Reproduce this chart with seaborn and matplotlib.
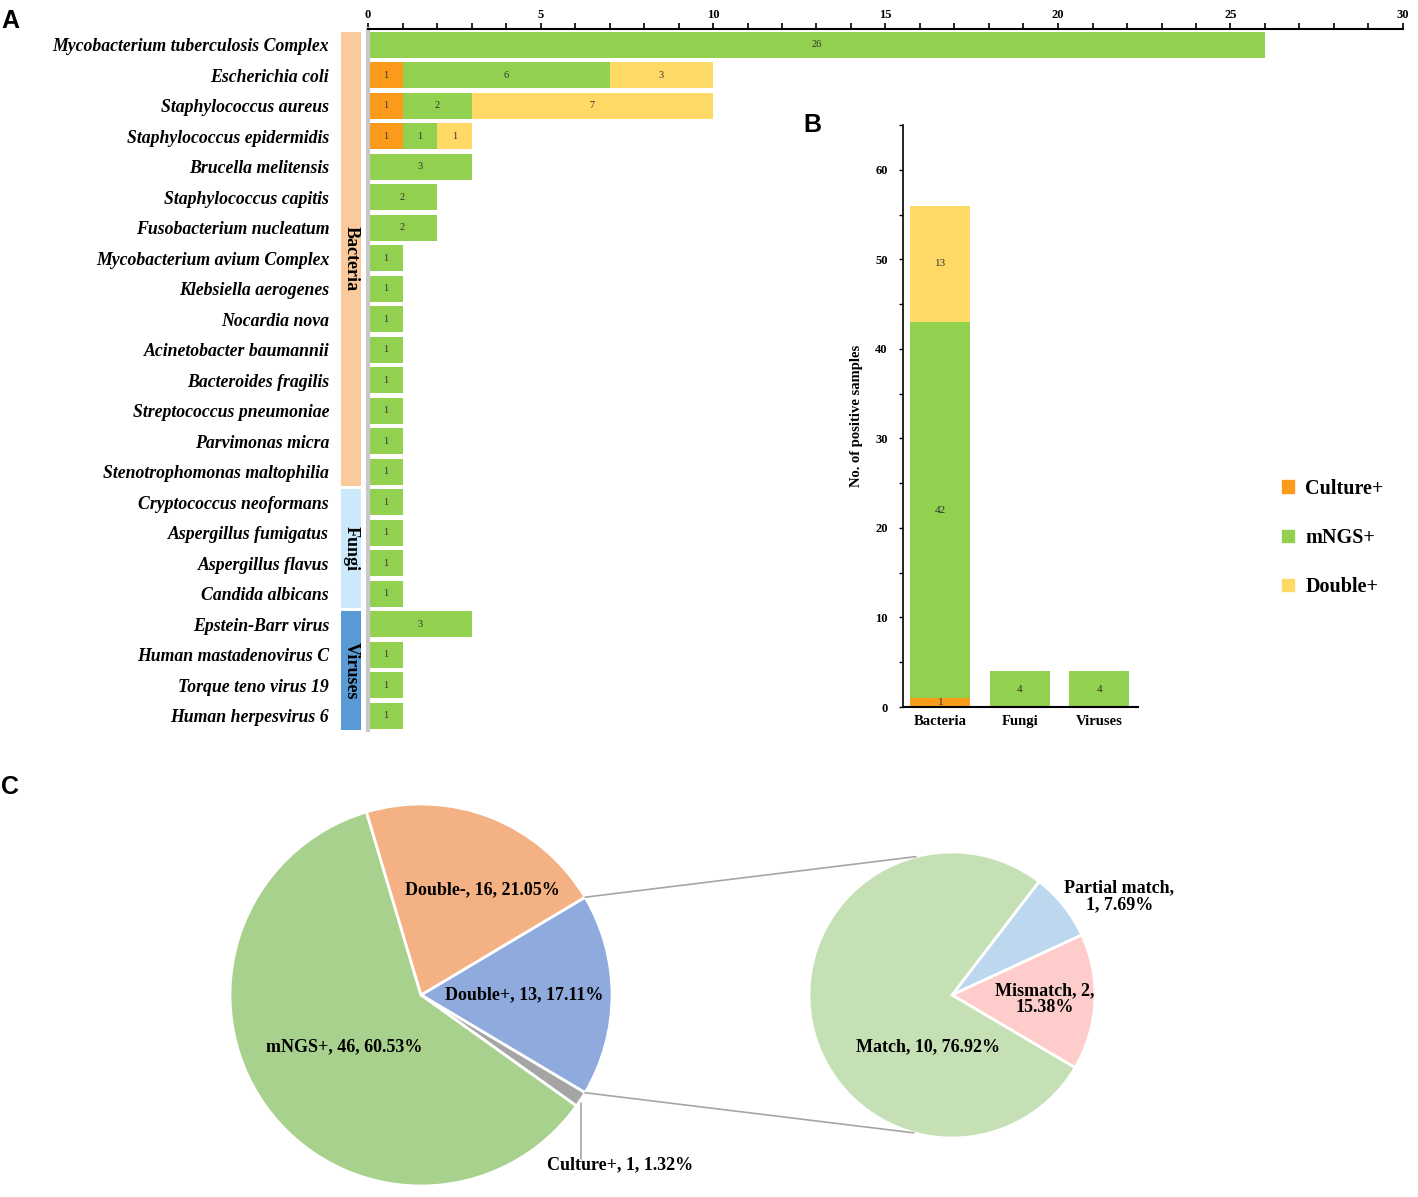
import matplotlib
matplotlib.use("Agg")
import matplotlib.pyplot as plt
import matplotlib.transforms as mtransforms
from matplotlib.patches import Patch, Rectangle, ConnectionPatch
import numpy as np
import pandas as pd
import seaborn as sns

# ---- data -------------------------------------------------------------
species = [
    "Mycobacterium tuberculosis Complex", "Escherichia coli", "Staphylococcus aureus",
    "Staphylococcus epidermidis", "Brucella melitensis", "Staphylococcus capitis",
    "Fusobacterium nucleatum", "Mycobacterium avium Complex", "Klebsiella aerogenes",
    "Nocardia nova", "Acinetobacter baumannii", "Bacteroides fragilis",
    "Streptococcus pneumoniae", "Parvimonas micra", "Stenotrophomonas maltophilia",
    "Cryptococcus neoformans", "Aspergillus fumigatus", "Aspergillus flavus",
    "Candida albicans", "Epstein-Barr virus", "Human mastadenovirus C",
    "Torque teno virus 19", "Human herpesvirus 6",
]
culture_pos = [0, 1, 1, 1, 0, 0, 0, 0, 0, 0, 0, 0, 0, 0, 0, 0, 0, 0, 0, 0, 0, 0, 0]
mngs_pos = [26, 6, 2, 1, 3, 2, 2, 1, 1, 1, 1, 1, 1, 1, 1, 1, 1, 1, 1, 3, 1, 1, 1]
double_pos = [0, 3, 7, 1, 0, 0, 0, 0, 0, 0, 0, 0, 0, 0, 0, 0, 0, 0, 0, 0, 0, 0, 0]

groups = ["Bacteria", "Fungi", "Viruses"]
group_sizes = [15, 4, 4]

kingdom_culture = [1, 0, 0]
kingdom_mngs = [42, 4, 4]
kingdom_double = [13, 0, 0]

overall_labels = ["Double+", "Culture+", "mNGS+", "Double-"]
overall_counts = [13, 1, 46, 16]
overall_pct = ["17.11%", "1.32%", "60.53%", "21.05%"]

concord_labels = ["Partial match", "Mismatch", "Match"]
concord_counts = [1, 2, 10]
concord_pct = ["7.69%", "15.38%", "76.92%"]

# ---- style ------------------------------------------------------------
C_CULT, C_MNGS, C_DBL = "#FB9A1B", "#92D050", "#FFD966"
GROUP_COLORS = ["#FAC99C", "#CBE9FB", "#5B9BD5"]
OVERALL_COLORS = ["#8FAADC", "#A5A5A5", "#A9D18E", "#F4B183"]
CONCORD_COLORS = ["#BDD7EE", "#FFCCCC", "#C5E0B4"]

sns.set_theme(style="white")
plt.rcParams["font.family"] = ["Liberation Serif", "DejaVu Serif"]
plt.rcParams["font.weight"] = "bold"
for key in ["text.color", "axes.labelcolor", "xtick.color", "ytick.color"]:
    plt.rcParams[key] = "black"

W, H = 1418, 1197
fig = plt.figure(figsize=(W / 100, H / 100), dpi=100)


def px_axes(x0, y0, x1, y1):
    """axes from pixel box (top-left origin)"""
    return fig.add_axes([x0 / W, 1 - y1 / H, (x1 - x0) / W, (y1 - y0) / H])


# ---- panel A: stacked horizontal bars ---------------------------------
df_a = pd.DataFrame({"species": species, "culture": culture_pos,
                     "mngs": mngs_pos, "double": double_pos})
df_a["c1"] = df_a["culture"]
df_a["c2"] = df_a["culture"] + df_a["mngs"]
df_a["c3"] = df_a["c2"] + df_a["double"]

axA = px_axes(368, 29, 1403, 730)
for col, color in [("c3", C_DBL), ("c2", C_MNGS), ("c1", C_CULT)]:
    sns.barplot(data=df_a, x=col, y="species", orient="h", color=color,
                width=0.85, saturation=1, ax=axA, linewidth=0)

for i, row in df_a.iterrows():
    starts = [0, row["c1"], row["c2"]]
    for start, val in zip(starts, [row["culture"], row["mngs"], row["double"]]):
        if val > 0:
            axA.text(start + val / 2, i, str(val), ha="center", va="center",
                     fontsize=7.5, fontweight="normal", color="#333333")

axA.set_xlim(0, 30)
axA.set_ylim(len(species) - 0.54, -0.52)
axA.xaxis.tick_top()
axA.set_xticks(range(0, 31, 5))
axA.set_xticks(range(0, 31), minor=True)
axA.tick_params(axis="x", which="both", direction="out", length=4, width=1.2,
                top=True, bottom=False, labelsize=9, pad=2)
axA.set_xlabel("")
axA.set_ylabel("")
axA.set_yticks(range(len(species)))
axA.set_yticklabels(species, fontstyle="italic", fontweight="bold", fontsize=12.8)
axA.tick_params(axis="y", length=0, pad=28)
for s in ["right", "bottom"]:
    axA.spines[s].set_visible(False)
axA.spines["top"].set_color("black")
axA.spines["top"].set_linewidth(1.5)
axA.spines["left"].set_color("#C8C8C8")
axA.spines["left"].set_linewidth(3)

# kingdom bands left of panel A
band_tf = mtransforms.blended_transform_factory(fig.transFigure, axA.transData)
start = 0
for name, size, color in zip(groups, group_sizes, GROUP_COLORS):
    y0, y1 = start - 0.43, start + size - 1 + 0.45
    axA.add_patch(Rectangle((341 / W, y0), 20 / W, y1 - y0, transform=band_tf,
                            facecolor=color, edgecolor="none", clip_on=False))
    axA.text(351 / W, (y0 + y1) / 2, name, transform=band_tf, rotation=-90,
             ha="center", va="center", fontsize=13, fontweight="bold")
    start += size

# ---- panel B: stacked bars per kingdom --------------------------------
df_b = pd.DataFrame({"kingdom": groups, "culture": kingdom_culture,
                     "mngs": kingdom_mngs, "double": kingdom_double})
df_b["c1"] = df_b["culture"]
df_b["c2"] = df_b["culture"] + df_b["mngs"]
df_b["c3"] = df_b["c2"] + df_b["double"]

axB = px_axes(903, 125, 1138, 707)
for col, color in [("c3", C_DBL), ("c2", C_MNGS), ("c1", C_CULT)]:
    sns.barplot(data=df_b, x="kingdom", y=col, color=color, width=0.76,
                saturation=1, ax=axB, linewidth=0)
for i, row in df_b.iterrows():
    starts = [0, row["c1"], row["c2"]]
    for st, val in zip(starts, [row["culture"], row["mngs"], row["double"]]):
        if val > 0:
            axB.text(i, st + val / 2, str(val), ha="center", va="center",
                     fontsize=8, fontweight="normal", color="#333333")
axB.set_ylim(0, 65)
axB.set_xlim(-0.47, 2.49)
axB.set_yticks(range(0, 61, 10))
axB.set_yticks(range(0, 66, 5), minor=True)
axB.tick_params(axis="y", which="both", direction="out", length=3, width=1,
                left=True, labelsize=9, pad=8)
axB.tick_params(axis="x", length=0, labelsize=10.5, pad=6)
axB.set_xlabel("")
axB.set_ylabel("No. of positive samples", fontsize=10.5, fontweight="bold", labelpad=9)
for s in ["right", "top"]:
    axB.spines[s].set_visible(False)
for s in ["left", "bottom"]:
    axB.spines[s].set_color("black")
axB.spines["left"].set_linewidth(1.2)
axB.spines["bottom"].set_linewidth(1.5)

handles = [Patch(color=c, label=l) for c, l in
           [(C_CULT, "Culture+"), (C_MNGS, "mNGS+"), (C_DBL, "Double+")]]
fig.legend(handles=handles, loc="center left", bbox_to_anchor=(1264 / W, 1 - 538 / H),
           frameon=False, prop={"size": 14.5, "weight": "bold"}, handlelength=0.6,
           handleheight=0.6, handletextpad=0.55, labelspacing=1.45)

# ---- panel C: pie of pies ---------------------------------------------
cx1, cy1, r1 = 421, 995, 191
axP1 = px_axes(cx1 - r1, cy1 - r1, cx1 + r1, cy1 + r1)
wedges1, _ = axP1.pie(overall_counts, colors=OVERALL_COLORS, startangle=30.8,
                      counterclock=False, radius=1,
                      wedgeprops=dict(edgecolor="white", linewidth=2))
axP1.set_xlim(-1, 1)
axP1.set_ylim(-1, 1)
axP1.set_aspect("equal")
axP1.axis("off")

lbl_pos1 = [(0.54, 0.0), (1.04, -0.89), (-0.40, -0.27), (0.32, 0.55)]
for lab, n, p, pos in zip(overall_labels, overall_counts, overall_pct, lbl_pos1):
    axP1.text(pos[0], pos[1], f"{lab}, {n}, {p}", ha="center", va="center",
              fontsize=13, fontweight="bold", clip_on=False)

# leader line for the tiny Culture+ slice
w_cult = wedges1[overall_labels.index("Culture+")]
mid = np.deg2rad((w_cult.theta1 + w_cult.theta2) / 2)
lx, ly = np.cos(mid), np.sin(mid)
axP1.plot([lx, lx], [ly - 0.02, -0.86], color="#A6A6A6", lw=1.2, clip_on=False)

cx2, cy2, r2 = 952, 995, 143
axP2 = px_axes(cx2 - r2, cy2 - r2, cx2 + r2, cy2 + r2)
wedges2, _ = axP2.pie(concord_counts, colors=CONCORD_COLORS, startangle=52.5,
                      counterclock=False, radius=1,
                      wedgeprops=dict(edgecolor="white", linewidth=2))
axP2.set_xlim(-1, 1)
axP2.set_ylim(-1, 1)
axP2.set_aspect("equal")
axP2.axis("off")

lbl_txt2 = [f"{concord_labels[0]},\n{concord_counts[0]}, {concord_pct[0]}",
            f"{concord_labels[1]}, {concord_counts[1]},\n{concord_pct[1]}",
            f"{concord_labels[2]}, {concord_counts[2]}, {concord_pct[2]}"]
lbl_pos2 = [(1.17, 0.69), (0.65, -0.03), (-0.17, -0.36)]
for txt, pos in zip(lbl_txt2, lbl_pos2):
    axP2.text(pos[0], pos[1], txt, ha="center", va="center", fontsize=13,
              fontweight="bold", linespacing=1.0, clip_on=False)

# connector lines from the Double+ wedge to the breakdown pie
dp = wedges1[0]
for ang1, ang2 in [(dp.theta2, 104.6), (dp.theta1, 254.6)]:
    a1, a2 = np.deg2rad(ang1), np.deg2rad(ang2)
    con = ConnectionPatch(xyA=(np.cos(a1), np.sin(a1)), coordsA=axP1.transData,
                          xyB=(np.cos(a2), np.sin(a2)), coordsB=axP2.transData,
                          color="#A6A6A6", lw=1.2)
    fig.add_artist(con)

# ---- panel letters ----------------------------------------------------
for letter, x, y in [("A", 10, 21), ("B", 812, 125), ("C", 10, 787)]:
    fig.text(x / W, 1 - y / H, letter, fontsize=18, fontweight="bold",
             family=["Liberation Sans", "DejaVu Sans"], ha="center", va="center")

fig.savefig("out.png", dpi=100)
